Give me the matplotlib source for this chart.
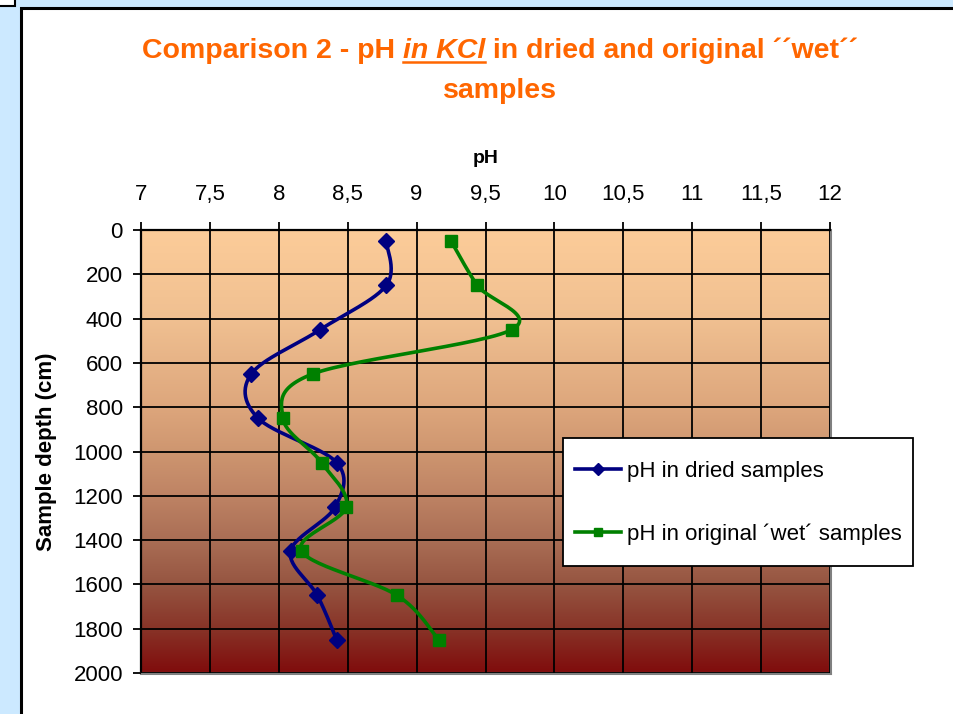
import numpy as np
import matplotlib.pyplot as plt
from matplotlib.patches import Rectangle
from matplotlib.colors import LinearSegmentedColormap
from matplotlib.ticker import FuncFormatter, MultipleLocator
from matplotlib.lines import Line2D

plt.rcParams['font.family'] = ['Liberation Sans', 'DejaVu Sans']

# sample depths (cm) and pH readings
depth = [50, 250, 450, 650, 850, 1050, 1250, 1450, 1650, 1850]
ph_dried = [8.78, 8.78, 8.30, 7.80, 7.85, 8.42, 8.41, 8.085, 8.28, 8.42]
ph_wet = [9.25, 9.44, 9.69, 8.245, 8.03, 8.31, 8.49, 8.165, 8.86, 9.16]

label_dried = 'pH in dried samples'
label_wet = 'pH in original \u00b4wet\u00b4 samples'

W, H = 954, 714
fig = plt.figure(figsize=(W / 100, H / 100), dpi=100)
fig.patch.set_facecolor('#CCE9FF')


def px(x0, y0, x1, y1):
    # pixel box (top-left origin) -> figure fraction rectangle
    return (x0 / W, 1 - y1 / H, (x1 - x0) / W, (y1 - y0) / H)


# white chart area with black frame, small box in the corner
l, b, w, h = px(21, 8, W + 10, H + 10)
fig.patches.append(Rectangle((l, b), w, h, transform=fig.transFigure,
                             facecolor='white', edgecolor='black', lw=2.2, zorder=-10))
l, b, w, h = px(-5, -5, 15.5, 5.5)
fig.patches.append(Rectangle((l, b), w, h, transform=fig.transFigure,
                             facecolor='white', edgecolor='black', lw=1.5, zorder=-10))

ax = fig.add_axes(px(141, 230, 830, 673))
ax.set_xlim(7, 12)
ax.set_ylim(2000, 0)

# vertical gradient fill of the plot area
stops = [(0.0, (252, 204, 153)), (0.2, (240, 192, 145)), (0.4, (221, 166, 124)),
         (0.5, (206, 150, 112)), (0.6, (190, 131, 100)), (0.7, (170, 110, 85)),
         (0.8, (150, 85, 65)), (0.9, (136, 52, 40)), (1.0, (128, 12, 12))]
cmap = LinearSegmentedColormap.from_list(
    'soil', [(p, tuple(c / 255 for c in col)) for p, col in stops])
grad = np.linspace(0, 1, 256).reshape(-1, 1)
ax.imshow(grad, cmap=cmap, aspect='auto', extent=(0, 1, 0, 1),
          transform=ax.transAxes, origin='upper', zorder=0)

ax.xaxis.set_major_locator(MultipleLocator(0.5))
ax.yaxis.set_major_locator(MultipleLocator(200))
ax.grid(True, color='black', lw=1.3, zorder=1)
ax.set_axisbelow(False)

fmt = FuncFormatter(lambda v, _: ('%g' % v).replace('.', ','))
ax.xaxis.set_major_formatter(fmt)
ax.xaxis.tick_top()
ax.xaxis.set_label_position('top')
ax.tick_params(axis='both', direction='out', length=6, width=1.3,
               labelsize=16, color='black')
ax.tick_params(axis='x', pad=12)
ax.tick_params(axis='y', pad=7)

for side in ('left', 'top'):
    ax.spines[side].set_color('black')
    ax.spines[side].set_linewidth(1.6)
for side in ('right', 'bottom'):
    ax.spines[side].set_color('#808080')
    ax.spines[side].set_linewidth(2.2)

ax.set_xlabel('pH', fontsize=14, fontweight='bold', labelpad=15)
ax.set_ylabel('Sample depth (cm)', fontsize=16, fontweight='bold', labelpad=12)


def smooth(xs, ys, n=30):
    # cubic Bezier smoothing through every point (Catmull-Rom control points)
    p = np.column_stack([xs, ys]).astype(float)
    ext = np.vstack([p[0], p, p[-1]])
    out = []
    t = np.linspace(0, 1, n)[:, None]
    for i in range(len(p) - 1):
        p0, p3 = ext[i + 1], ext[i + 2]
        c1 = p0 + (ext[i + 2] - ext[i]) / 6
        c2 = p3 - (ext[i + 3] - ext[i + 1]) / 6
        seg = ((1 - t) ** 3) * p0 + 3 * ((1 - t) ** 2) * t * c1 \
            + 3 * (1 - t) * t ** 2 * c2 + t ** 3 * p3
        out.append(seg if i == 0 else seg[1:])
    s = np.vstack(out)
    return s[:, 0], s[:, 1]


sx, sy = smooth(ph_dried, depth)
ax.plot(sx, sy, color='#000080', lw=2.6, zorder=3, solid_capstyle='round')
ax.plot(ph_dried, depth, ls='none', marker='D', ms=8, color='#000080', zorder=4)

sx, sy = smooth(ph_wet, depth)
ax.plot(sx, sy, color='#008000', lw=2.6, zorder=3, solid_capstyle='round')
ax.plot(ph_wet, depth, ls='none', marker='s', ms=9, color='#008000', zorder=4)

# legend box drawn separately, entries placed inside it
l, b, w, h = px(563, 438, 913, 566)
fig.patches.append(Rectangle((l, b), w, h, transform=fig.transFigure,
                             facecolor='white', edgecolor='black', lw=1.3, zorder=5))
handles = [Line2D([], [], color='#000080', lw=2.6, marker='D', ms=6),
           Line2D([], [], color='#008000', lw=2.6, marker='s', ms=6)]
leg = fig.legend(handles, [label_dried, label_wet], loc='upper left',
                 bbox_to_anchor=(575 / W, 1 - 461 / H), bbox_transform=fig.transFigure,
                 fontsize=16, frameon=False, borderpad=0, labelspacing=1.87,
                 handlelength=2.07, handletextpad=0.27, borderaxespad=0)
leg.set_zorder(6)

# title made of three styled pieces on the first line
orange = '#FF6600'
pieces = [('Comparison 2 - pH ', 'normal', False),
          ('in KCl', 'italic', True),
          (' in dried and original \u00b4\u00b4wet\u00b4\u00b4', 'normal', False)]
fs = 20.5
renderer = fig.canvas.get_renderer()
texts = []
for s, style, _ in pieces:
    t = fig.text(0, 0, s, fontsize=fs, fontweight='bold', style=style,
                 color=orange, va='baseline', ha='left')
    texts.append(t)
widths = [t.get_window_extent(renderer).width for t in texts]
x = 500 - sum(widths) / 2
base = 1 - 58 / H
for t, wd, (s, style, under) in zip(texts, widths, pieces):
    t.set_position((x / W, base))
    if under:
        fig.add_artist(Line2D([x / W, (x + wd) / W], [base - 4 / H, base - 4 / H],
                              transform=fig.transFigure, color=orange, lw=1.8))
    x += wd
fig.text(500 / W, 1 - 98 / H, 'samples', fontsize=fs, fontweight='bold',
         color=orange, ha='center', va='baseline')

fig.savefig('out.png', dpi=100, facecolor=fig.get_facecolor())
